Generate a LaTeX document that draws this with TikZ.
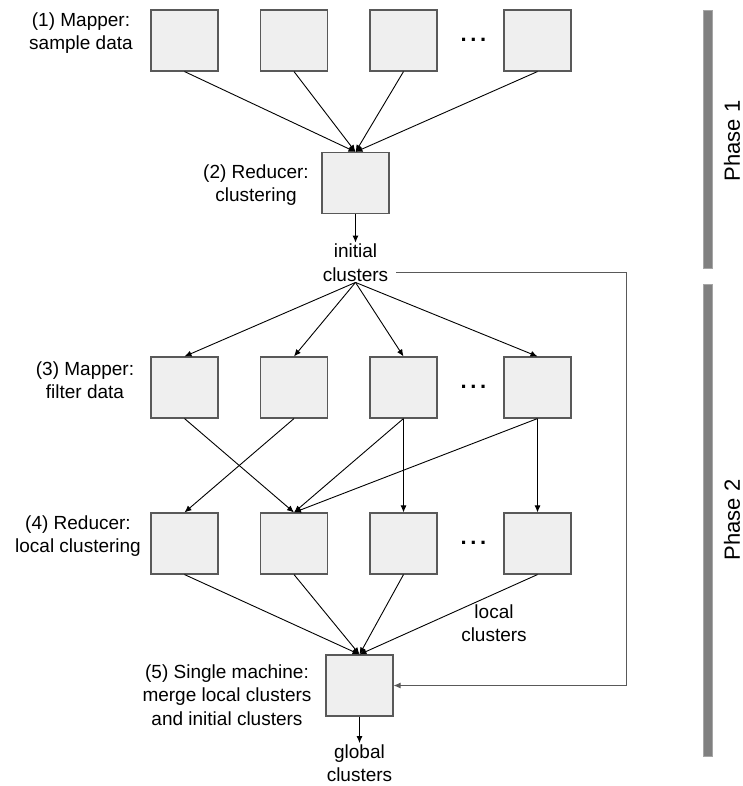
\documentclass[tikz,border=0pt]{standalone}
\usepackage{fontspec}
\setmainfont{Liberation Sans}
\usetikzlibrary{arrows.meta}
\definecolor{boxfill}{HTML}{EFEFEF}
\definecolor{boxline}{HTML}{595959}
\definecolor{barfill}{HTML}{808080}
\definecolor{baredge}{HTML}{A6A6A6}

\begin{document}
\begin{tikzpicture}[x=1pt,y=-1pt,
  task/.style={draw=boxline, fill=boxfill, line width=1.1pt,
    minimum width=67pt, minimum height=61pt, inner sep=0pt},
  lbl/.style={align=center, font=\fontsize{19}{23.5}\selectfont, inner sep=1pt},
  flow/.style={-{Latex[length=7pt,width=6pt]}, line width=0.9pt},
  dots/.style={font=\fontsize{22}{24}\selectfont\bfseries, inner sep=0pt},
  bar/.style={fill=barfill, draw=baredge, line width=0.6pt},
  phase/.style={rotate=90, font=\fontsize{22}{26}\selectfont}
]
\useasboundingbox (0,0) rectangle (743,786);
\newcommand\gapdots{.\kern3.6pt.\kern3.6pt.}

% Phase 1: sampling mappers and the clustering reducer
\foreach \x [count=\i] in {184.5,294,403.5,537.5}
  \node[task] (m\i) at (\x,40.5) {};
\node[dots] (d1) at (473.5,40) {\gapdots};
\node[task] (red) at (355.5,183) {};

% Phase 2: filtering mappers, local reducers, final merge
\foreach \x [count=\i] in {184.5,294,403.5,537.5}
  \node[task] (f\i) at (\x,387.5) {};
\node[dots] (d3) at (473.5,387) {\gapdots};
\foreach \x [count=\i] in {184.5,294,403.5,537.5}
  \node[task] (r\i) at (\x,543.5) {};
\node[dots] (d4) at (473.5,543) {\gapdots};
\node[task] (mg) at (359.5,685.5) {};

% Step labels
\node[lbl] (l1) at (81,33) {(1) Mapper:\\sample data};
\node[lbl] (l2) at (256,185) {(2) Reducer:\\clustering};
\node[lbl] (l3) at (85,380) {(3) Mapper:\\filter data};
\node[lbl] (l4) at (78,536) {(4) Reducer:\\local clustering};
\node[lbl] (l5) at (227,695) {(5) Single machine:\\merge local clusters\\and initial clusters};
\node[lbl] (init) at (355.5,262.5) {initial\\clusters};
\node[lbl] (local) at (494,623) {local\\clusters};
\node[lbl] (global) at (359.5,763) {global\\clusters};

% Phase bars
\draw[bar] (703,10) rectangle (712.5,268);
\draw[bar] (703,284) rectangle (712.5,756);
\node[phase] (p1) at (732,141) {Phase 1};
\node[phase] (p2) at (732,520) {Phase 2};

% Data flow
\foreach \i in {1,...,4}
  \draw[flow] (m\i.south) -- (red.north);
\draw[flow] (red.south) -- (init.north);
\foreach \i in {1,...,4}
  \draw[flow] (init.south) -- (f\i.north);
\draw[flow] (f1.south) -- (r2.north);
\draw[flow] (f2.south) -- (r1.north);
\draw[flow] (f3.south) -- (r2.north);
\draw[flow] (f3.south) -- (r3.north);
\draw[flow] (f4.south) -- (r2.north);
\draw[flow] (f4.south) -- (r4.north);
\foreach \i in {1,...,4}
  \draw[flow] (r\i.south) -- (mg.north);
\draw[flow] (mg.south) -- (global.north);

% Initial clusters fed forward to the merge step
\coordinate (fbx) at (626,0);
\draw[flow, draw=boxline] ([xshift=7pt,yshift=-10pt]init.east) coordinate (fbs)
  -- (fbs -| fbx) |- (mg.east);
\end{tikzpicture}
\end{document}
